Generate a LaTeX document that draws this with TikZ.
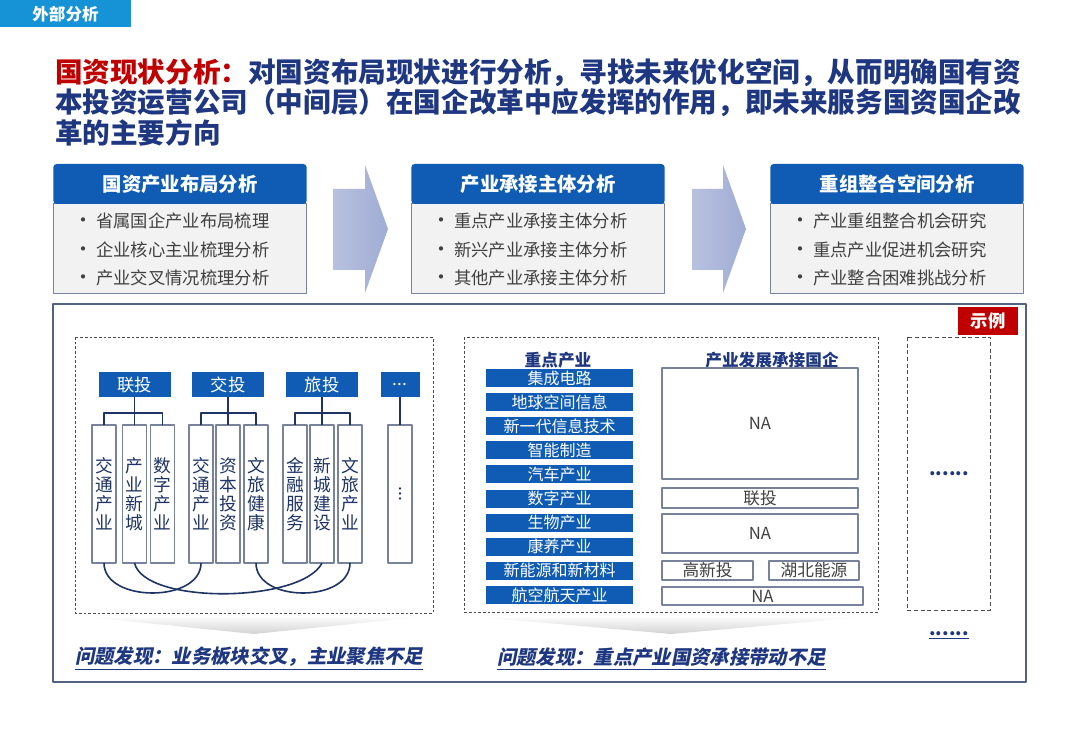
\documentclass[tikz,border=0pt]{standalone}
\usepackage{fontspec}
\setmainfont{Noto Sans CJK SC}
\newfontfamily\slantfont[FakeSlant=0.2]{Noto Sans CJK SC}
\usetikzlibrary{positioning}
\definecolor{tabblue}{RGB}{22,146,214}
\definecolor{hdblue}{RGB}{16,92,180}
\definecolor{navy}{RGB}{30,55,128}
\definecolor{redtxt}{RGB}{192,0,0}
\definecolor{boxgrey}{RGB}{242,242,242}
\definecolor{edgegrey}{RGB}{120,130,155}
\definecolor{framecol}{RGB}{84,98,130}
\definecolor{arrowcol}{RGB}{160,172,212}
\definecolor{linknavy}{RGB}{31,52,100}
\definecolor{txtgrey}{RGB}{64,64,64}
\newcommand{\bul}{\makebox[11pt]{\fontsize{15}{15}\selectfont •}\hspace{4pt}}
\begin{document}
\begin{tikzpicture}[x=0.75pt,y=-0.75pt,line join=round,
  every node/.style={inner sep=0pt,outer sep=0pt},
  hdbox/.style={fill=hdblue,text=white,rounded corners=2.5pt,minimum width=190pt,minimum height=30pt,font=\bfseries\fontsize{14.5}{17}\selectfont},
  bdbox/.style={fill=boxgrey,draw=edgegrey,line width=0.8pt,minimum width=190pt,minimum height=67pt},
  bullets/.style={anchor=west,align=left,text=txtgrey,font=\fontsize{13}{21.4}\selectfont},
  firm/.style={fill=hdblue,text=white,minimum width=54pt,minimum height=18.75pt,font=\fontsize{13}{15}\selectfont},
  child/.style={draw=edgegrey,fill=white,line width=0.8pt,minimum width=18pt,minimum height=103.5pt,align=center,text=linknavy,font=\fontsize{13.3}{14.3}\selectfont},
  tree/.style={draw=linknavy,line width=0.8pt},
  link/.style={draw=linknavy,line width=1.2pt},
  bar/.style={fill=hdblue,text=white,minimum width=110.25pt,minimum height=13.5pt,font=\fontsize{12}{14}\selectfont},
  slot/.style={draw=edgegrey,fill=white,line width=0.8pt,text=txtgrey,font=\fontsize{12.5}{14}\selectfont},
  head/.style={text=navy,font=\bfseries\fontsize{12.5}{14}\selectfont},
  panel/.style={draw=gray!60!black,line width=0.6pt,dash pattern=on 2pt off 1.5pt},
  prob/.style={anchor=west,text=navy,font=\slantfont\bfseries\fontsize{14.5}{17}\selectfont}]
  \useasboundingbox (0,0) rectangle (1080,748);
  \fill[white] (0,0) rectangle (1080,748);

  % tab and title
  \node[fill=tabblue,text=white,minimum width=98.25pt,minimum height=20.5pt,font=\bfseries\fontsize{12.4}{14}\selectfont] (tab) at (65.5,13.7) {外部分析};
  \node[anchor=west,text=navy,font=\bfseries\fontsize{20.7}{24}\selectfont] (t1) at (55,73) {\textcolor{redtxt}{国资现状分析：}对国资布局现状进行分析，寻找未来优化空间，从而明确国有资};
  \node[anchor=west,text=navy,font=\bfseries\fontsize{20.7}{24}\selectfont] (t2) at (55,103) {本投资运营公司（中间层）在国企改革中应发挥的作用，即未来服务国资国企改};
  \node[anchor=west,text=navy,font=\bfseries\fontsize{20.7}{24}\selectfont] (t3) at (55,133) {革的主要方向};

  % three analysis steps
  \foreach \n/\cx/\ttl/\ia/\ib/\ic in {
      1/180/国资产业布局分析/省属国企产业布局梳理/企业核心主业梳理分析/产业交叉情况梳理分析,
      2/538/产业承接主体分析/重点产业承接主体分析/新兴产业承接主体分析/其他产业承接主体分析,
      3/897/重组整合空间分析/产业重组整合机会研究/重点产业促进机会研究/产业整合困难挑战分析}{
    \node[bdbox] (bd\n) at (\cx,248.5) {};
    \node[hdbox] (hd\n) at (\cx,184) {\ttl};
    \node[bullets] (li\n) at ({\cx-104},249.5) {\bul\ia\\ \bul\ib\\ \bul\ic};
  }
  \shade[left color=arrowcol!75,right color=arrowcol] (333,189) -- (365,189) -- (365,165) -- (388,229) -- (365,293) -- (365,270) -- (333,270) -- cycle;
  \shade[left color=arrowcol!75,right color=arrowcol] (692,189) -- (723,189) -- (723,165) -- (746,229) -- (723,293) -- (723,270) -- (692,270) -- cycle;

  % example frame
  \draw[framecol,line width=1.1pt] (53,304) rectangle (1026,682);
  \node[fill=redtxt,text=white,minimum width=45pt,minimum height=21pt,font=\bfseries\fontsize{13}{15}\selectfont] (sl) at (988,321) {示例};
  \draw[panel] (75,337) rectangle (433,613);
  \draw[panel] (464,337) rectangle (878,612);
  \draw[draw=gray!60!black,line width=0.6pt,dash pattern=on 3pt off 2pt] (907,337) rectangle (990,610);
  \shade[top color=white,bottom color=gray!35] (78,616) -- (430,616) -- (254,634) -- cycle;
  \shade[top color=white,bottom color=gray!35] (467,616) -- (875,616) -- (671,634) -- cycle;

  % left panel: groups and their businesses
  \foreach \n/\cx/\t in {lt/134.5/联投, jt/228/交投, ly/322/旅投}
    \node[firm] (\n) at (\cx,384.5) {\t};
  \node[firm,minimum width=29.25pt] (etc) at (400,384.5) {...};
  \foreach \i/\cx/\t in {1/104/{交\\通\\产\\业}, 2/134.5/{产\\业\\新\\城}, 3/162.5/{数\\字\\产\\业},
      4/201/{交\\通\\产\\业}, 5/228/{资\\本\\投\\资}, 6/256/{文\\旅\\健\\康},
      7/295/{金\\融\\服\\务}, 8/322/{新\\城\\建\\设}, 9/350/{文\\旅\\产\\业}, 10/400/{\rotatebox{-90}{...}}}
    \node[child] (c\i) at (\cx,494) {\t};
  \foreach \p/\a/\b/\m in {lt/1/3/2, jt/4/6/5, ly/7/9/8}{
    \draw[tree] (\p.south) -- (c\m.north);
    \draw[tree] (c\a.north) -- ++(0,-12) -| (c\b.north);
  }
  \draw[tree] (etc.south) -- (c10.north);
  \draw[link] (c1.south) .. controls +(0,40) and +(0,40) .. (c4.south);
  \draw[link] (c2.south) .. controls +(10,42) and +(-20,40) .. (c8.south);
  \draw[link] (c6.south) .. controls +(0,40) and +(0,40) .. (c9.south);

  % middle panel: key industries and their state enterprises
  \node[head] (kh) at (558,360) {重点产业};
  \node[head] (ch) at (772,360) {产业发展承接国企};
  \foreach \i/\t in {1/集成电路, 2/地球空间信息, 3/新一代信息技术, 4/智能制造, 5/汽车产业,
      6/数字产业, 7/生物产业, 8/康养产业, 9/新能源和新材料, 10/航空航天产业}
    \node[bar] (b\i) at (559.5,{378+24.1*(\i-1)}) {\t};
  \node[slot,minimum width=147pt,minimum height=83.25pt] (na1) at (760,423.5) {NA};
  \node[slot,minimum width=147pt,minimum height=15pt] (ltq) at (760,498) {联投};
  \node[slot,minimum width=147pt,minimum height=29.25pt] (na2) at (760,533.5) {NA};
  \node[slot,minimum width=68.25pt,minimum height=14.25pt] (gxt) at (707.5,570.5) {高新投};
  \node[slot,minimum width=67.5pt,minimum height=14.25pt] (hbny) at (814,570.5) {湖北能源};
  \node[slot,minimum width=150.75pt,minimum height=13.5pt] (na3) at (762.5,596) {NA};

  % right panel
  \node[text=navy,font=\bfseries\fontsize{14}{16}\selectfont] (more) at (949,474) {......};
  \node[text=navy,font=\bfseries\fontsize{14}{16}\selectfont] (more2) at (949,634) {......};
  \draw[navy,line width=0.8pt] ([yshift=-2pt]more2.south west) -- ([yshift=-2pt]more2.south east);

  % findings
  \node[prob] (p1) at (75,657) {问题发现：业务板块交叉，主业聚焦不足};
  \node[prob] (p2) at (497,657) {问题发现：重点产业国资承接带动不足};
  \draw[navy,line width=0.8pt] ([yshift=-2pt]p1.south west) -- ([yshift=-2pt]p1.south east);
  \draw[navy,line width=0.8pt] ([yshift=-2pt]p2.south west) -- ([yshift=-2pt]p2.south east);
\end{tikzpicture}
\end{document}
